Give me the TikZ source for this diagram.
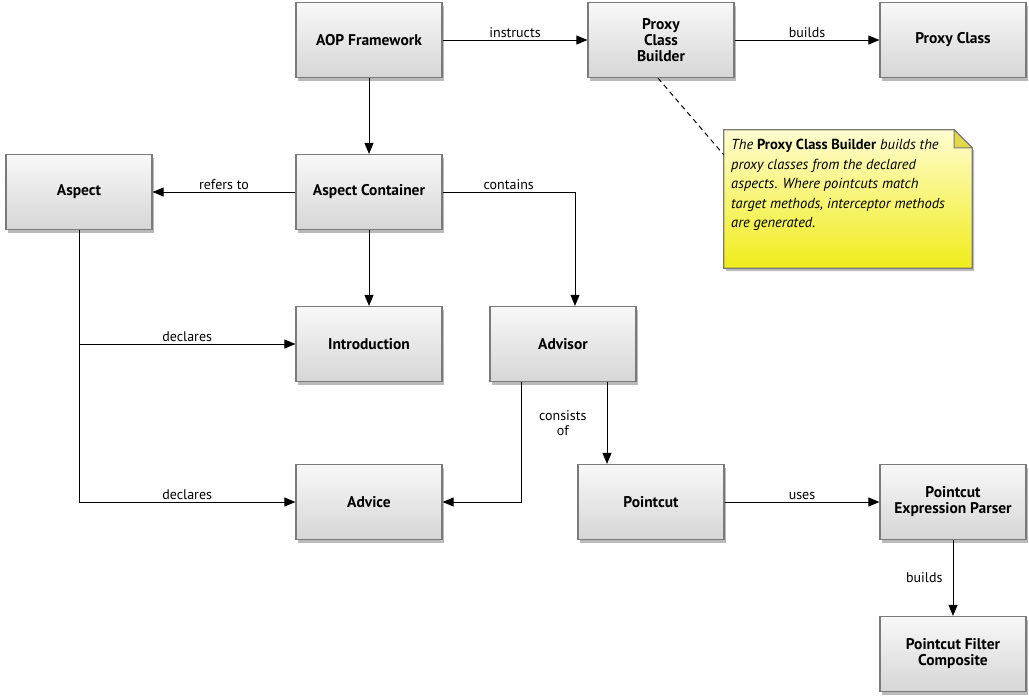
\documentclass[tikz,border=0pt]{standalone}
\usepackage{fontspec}
\setmainfont{PT Sans}
\usepackage{tikz}
\usetikzlibrary{arrows.meta,shadows}

\definecolor{boxtop}{HTML}{F8F8F8}
\definecolor{boxbot}{HTML}{D6D6D6}
\definecolor{boxline}{HTML}{7A7A7A}
\definecolor{notetop}{HTML}{FFFDD0}
\definecolor{notebot}{HTML}{F0EC1A}
\definecolor{notefold}{HTML}{E2D84A}

\begin{document}
\begin{tikzpicture}[x=1pt,y=-1pt,
  block/.style={draw=boxline, line width=1.2pt, top color=boxtop, bottom color=boxbot,
    minimum width=146pt, minimum height=75pt, align=center,
    font=\fontsize{15.5}{16}\selectfont\bfseries,
    drop shadow={shadow xshift=2pt, shadow yshift=-3pt, opacity=0.45, fill=black!60}},
  link/.style={line width=1pt, -{Triangle[length=11pt,width=9pt]}},
  lbl/.style={font=\fontsize{14}{15}\selectfont, inner sep=2pt}
]
\useasboundingbox (0,0) rectangle (1029,697);

% boxes
\node[block] (aop) at (369,40) {AOP Framework};
\node[block] (pcb) at (661,40) {Proxy\\Class\\Builder};
\node[block] (proxy) at (953,40) {Proxy Class};

\node[block] (aspect) at (79,192) {Aspect};
\node[block] (ac) at (369,192) {Aspect Container};

\node[block] (intro) at (369,344) {Introduction};
\node[block] (advisor) at (563,344) {Advisor};

\node[block] (advice) at (369,502) {Advice};
\node[block] (pointcut) at (651,502) {Pointcut};
\node[block] (pep) at (953,502) {Pointcut\\Expression Parser};

\node[block] (pfc) at (953,654) {Pointcut Filter\\Composite};

% note
\node[minimum width=248pt, minimum height=138pt, inner sep=0pt] (note) at (848,199) {};
\shade[top color=notetop, bottom color=notebot, draw=boxline, line width=1.2pt,
  drop shadow={shadow xshift=2pt, shadow yshift=-3pt, opacity=0.45, fill=black!60}]
  (note.north west) -- ([xshift=-18pt]note.north east) -- ([yshift=-18pt]note.north east)
  -- (note.south east) -- (note.south west) -- cycle;
\fill[notefold, draw=boxline, line width=1pt, line join=round]
  ([xshift=-18pt]note.north east) -- ([xshift=-18pt,yshift=-18pt]note.north east)
  -- ([yshift=-18pt]note.north east) -- cycle;
\node[anchor=north west, align=left, inner sep=0pt,
  font=\fontsize{14.5}{19.5}\selectfont\itshape] (notetext) at (731,139)
  {The \textbf{\upshape Proxy Class Builder} builds the\\
   proxy classes from the declared\\
   aspects. Where pointcuts match\\
   target methods, interceptor methods\\
   are generated.};
\coordinate (notepin) at ([yshift=-25pt]note.north west);

% connectors
\draw[link] (aop) -- node[lbl, above] {instructs} (pcb);
\draw[link] (pcb) -- node[lbl, above] {builds} (proxy);
\draw[line width=1pt, dashed, dash pattern=on 5pt off 4pt] ([xshift=-3pt]pcb.south) -- (notepin);

\draw[link] (aop) -- (ac);
\draw[link] (ac) -- node[lbl, above] {refers to} (aspect);
\draw[link] (ac.east) -| node[lbl, above, pos=0.25] {contains} ([xshift=12pt]advisor.north);
\draw[link] (ac) -- (intro);

\draw[link] (aspect.south) |- node[lbl, above, pos=0.75] {declares} (intro.west);
\draw[link] (aspect.south) |- node[lbl, above, pos=0.75] {declares} (advice.west);

\draw[link] ([xshift=-42pt]advisor.south) |- (advice.east);
\draw[link] ([xshift=44pt]advisor.south) -- node[lbl, left=18pt, align=center] {consists\\of} ([xshift=-44pt]pointcut.north);

\draw[link] (pointcut) -- node[lbl, above] {uses} (pep);
\draw[link] (pep) -- node[lbl, left=8pt] {builds} (pfc);

\end{tikzpicture}
\end{document}
